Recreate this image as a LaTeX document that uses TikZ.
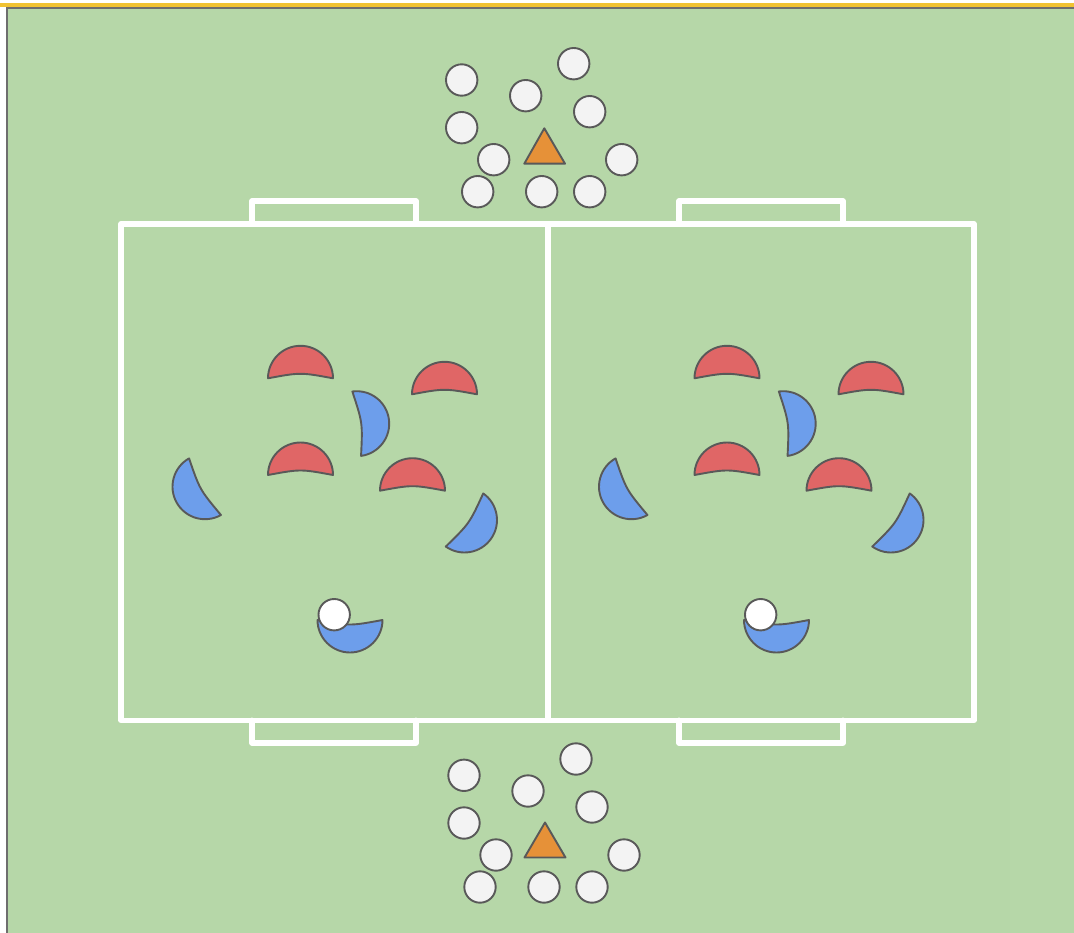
\documentclass[tikz,border=0pt]{standalone}
\usetikzlibrary{calc}
\definecolor{pitch}{HTML}{B6D7A8}
\definecolor{redp}{HTML}{E06666}
\definecolor{bluep}{HTML}{6D9EEB}
\definecolor{orangep}{HTML}{E69138}
\definecolor{strokeg}{HTML}{595959}
\definecolor{coneg}{HTML}{F3F3F3}
\definecolor{topy}{HTML}{F1C232}
\definecolor{borderg}{HTML}{6E6E6E}
\tikzset{
  player/.style={draw=strokeg, line width=1.9pt, line join=round},
  fieldline/.style={draw=white, line width=5.5pt, line join=round, line cap=round},
  cone/.style={circle, draw=strokeg, fill=coneg, line width=1.9pt, minimum size=31.4pt, inner sep=0pt},
  ballnode/.style={circle, draw=strokeg, fill=white, line width=1.9pt, minimum size=31.4pt, inner sep=0pt},
  marker/.style={draw=strokeg, fill=orangep, line width=1.9pt, line join=round},
}
% #1 colour, #2 cx, #3 cy, #4 bulge angle, #5 name
\newcommand{\crescentshape}[5]{%
  \path[player, fill=#1] ($(#2,#3)+(#4-90:32.5)$) coordinate (#5)
     arc[start angle=#4-90, end angle=#4+90, radius=32.5]
     .. controls ($(#2,#3)+(#4:6)$) .. (#5) -- cycle;
}
% one half of the pitch, shifted by #1
\newcommand{\halfteam}[2]{%
  \crescentshape{redp}{300.5+#1}{378.3}{-90}{#2r1}
  \crescentshape{redp}{444.5+#1}{394.3}{-90}{#2r2}
  \crescentshape{redp}{300.5+#1}{475}{-90}{#2r3}
  \crescentshape{redp}{412.5+#1}{490.7}{-90}{#2r4}
  \crescentshape{bluep}{356.7+#1}{423.7}{-7.7}{#2b1}
  \crescentshape{bluep}{205+#1}{486.7}{150.6}{#2b2}
  \crescentshape{bluep}{464.5+#1}{520}{35.2}{#2b3}
  \crescentshape{bluep}{350+#1}{620}{90}{#2b4}
  \node[ballnode] (#2ball) at (334.2+#1,614.7) {};
}
\begin{document}
\begin{tikzpicture}[x=1pt, y=-1pt]
\useasboundingbox (0,0) rectangle (1074,933);
\fill[white] (0,0) rectangle (1074,933);
\fill[topy] (0,3) rectangle (1074,6.7);
\draw[draw=borderg, fill=pitch, line width=1.7pt] (7,7.8) rectangle (1090,950);

% field
\draw[fieldline] (121,223.8) rectangle (974,720.3);
\draw[fieldline] (547.8,223.8) -- (547.8,720.3);
\draw[fieldline] (252,223.8) -- (252,201) -- (416,201) -- (416,223.8);
\draw[fieldline] (679,223.8) -- (679,201) -- (843,201) -- (843,223.8);
\draw[fieldline] (252,720.3) -- (252,742.8) -- (416,742.8) -- (416,720.3);
\draw[fieldline] (679,720.3) -- (679,742.8) -- (843,742.8) -- (843,720.3);

% teams
\halfteam{0}{L}
\halfteam{426.5}{R}

% top cluster
\node[cone] (t1) at (461.7,80) {};
\node[cone] (t2) at (525.7,95.7) {};
\node[cone] (t3) at (573.7,63.7) {};
\node[cone] (t4) at (589.7,111.7) {};
\node[cone] (t5) at (461.7,127.7) {};
\node[cone] (t6) at (493.7,159.7) {};
\node[cone] (t7) at (621.7,159.7) {};
\node[cone] (t8) at (477.7,191.7) {};
\node[cone] (t9) at (541.7,191.7) {};
\node[cone] (t10) at (589.7,191.7) {};
\path[marker] (544.3,128.3) -- (565,163.7) -- (524.3,163.7) -- cycle;

% bottom cluster
\node[cone] (u1) at (464,775.3) {};
\node[cone] (u2) at (528,791) {};
\node[cone] (u3) at (576,759) {};
\node[cone] (u4) at (592,807) {};
\node[cone] (u5) at (464,823) {};
\node[cone] (u6) at (496,855) {};
\node[cone] (u7) at (624,855) {};
\node[cone] (u8) at (480,887) {};
\node[cone] (u9) at (544,887) {};
\node[cone] (u10) at (592,887) {};
\path[marker] (545,822.5) -- (565.5,857.5) -- (524.5,857.5) -- cycle;
\end{tikzpicture}
\end{document}
